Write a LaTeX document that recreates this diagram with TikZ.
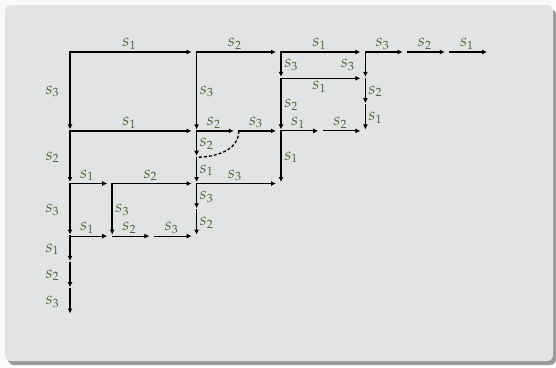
\documentclass[tikz,border=0pt]{standalone}
\usepackage{mathpazo}
\usepackage{tikz}
\usetikzlibrary{arrows.meta,positioning}

\definecolor{pagewhite}{RGB}{250,251,248}
\definecolor{framegray}{RGB}{226,227,229}
\definecolor{shadowgray}{RGB}{155,155,155}
\definecolor{labelgreen}{RGB}{76,106,50}

\begin{document}
\begin{tikzpicture}[
  x=42.2pt,
  y=-26.3pt,
  flow/.style={
    -{Latex[length=5pt,width=5pt]},
    line width=1.6pt,
    line cap=rect
  },
  hflow/.style={flow, shorten >=5pt},
  vflow/.style={flow, shorten >=1.5pt},
  light/.style={line width=1.1pt},
  lbl/.style={font=\LARGE, text=labelgreen, inner sep=2pt},
  lblup/.style={lbl, above=0pt, xshift=-4pt},
  lbldown/.style={lbl, below=0pt, xshift=-4pt},
  lblleft/.style={lbl, left=8pt},
  lblright/.style={lbl, right=0.5pt},
  link/.style={densely dashed, line width=1.3pt}
]

% frame
\useasboundingbox (-70pt,52pt) rectangle (486pt,-315pt);
\fill[pagewhite] (-70pt,52pt) rectangle (486pt,-315pt);
\fill[shadowgray, rounded corners=6pt] (-62pt,43pt) rectangle (486pt,-313pt);
\fill[framegray, rounded corners=6pt] (-65pt,47pt) rectangle (483pt,-309pt);

% grid points
\coordinate (a0) at (0,0);
\coordinate (d0) at (3,0);
\coordinate (f0) at (5,0);
\coordinate (h0) at (7,0);
\coordinate (i0) at (8,0);
\coordinate (j0) at (9,0);
\coordinate (k0) at (10,0);
\coordinate (f1) at (5,1);
\coordinate (h1) at (7,1);
\coordinate (h2) at (7,2);
\coordinate (a3) at (0,3);
\coordinate (d3) at (3,3);
\coordinate (e3) at (4,3);
\coordinate (f3) at (5,3);
\coordinate (g3) at (6,3);
\coordinate (h3) at (7,3);
\coordinate (d4) at (3,4);
\coordinate (a5) at (0,5);
\coordinate (b5) at (1,5);
\coordinate (d5) at (3,5);
\coordinate (f5) at (5,5);
\coordinate (d6) at (3,6);
\coordinate (a7) at (0,7);
\coordinate (b7) at (1,7);
\coordinate (c7) at (2,7);
\coordinate (d7) at (3,7);
\coordinate (a8) at (0,8);
\coordinate (a9) at (0,9);
\coordinate (a10) at (0,10);

% top row
\draw[hflow] (a0) -- node[lblup] {$s_1$} (d0);
\draw[hflow] (d0) -- node[lblup] {$s_2$} (f0);
\draw[hflow] (f0) -- node[lblup] {$s_1$} (h0);
\draw[hflow] (h0) -- node[lblup] {$s_3$} (i0);
\draw[hflow] (i0) -- node[lblup] {$s_2$} (j0);
\draw[hflow] (j0) -- node[lblup] {$s_1$} (k0);

% down from the top row
\draw[vflow] (a0) -- node[lblleft] {$s_3$} (a3);
\draw[vflow] (d0) -- node[lblright] {$s_3$} (d3);
\draw[vflow] (f0) -- node[lblright] {$s_3$} (f1);
\draw[vflow] (h0) -- node[lblleft] {$s_3$} (h1);

\draw[hflow] (f1) -- node[lbldown] {$s_1$} (h1);
\draw[vflow] (f1) -- node[lblright] {$s_2$} (f3);
\draw[vflow, light] (h1) -- node[lblright] {$s_2$} (h2);
\draw[vflow, light] (h2) -- node[lblright] {$s_1$} (h3);

% third row
\draw[hflow] (a3) -- node[lblup] {$s_1$} (d3);
\draw[hflow] (d3) -- node[lblup] {$s_2$} (e3);
\draw[hflow] (e3) -- node[lblup] {$s_3$} (f3);
\draw[hflow, light] (f3) -- node[lblup] {$s_1$} (g3);
\draw[hflow, light] (g3) -- node[lblup] {$s_2$} (h3);

\draw[vflow] (a3) -- node[lblleft] {$s_2$} (a5);
\draw[vflow, light] (d3) -- node[lblright] {$s_2$} (d4);
\draw[link] (e3) to[out=-90, in=0] (d4);
\draw[vflow, light] (d4) -- node[lblright] {$s_1$} (d5);
\draw[vflow] (f3) -- node[lblright] {$s_1$} (f5);

% fifth row
\draw[hflow] (a5) -- node[lblup] {$s_1$} (b5);
\draw[hflow] (b5) -- node[lblup] {$s_2$} (d5);
\draw[hflow, light] (d5) -- node[lblup] {$s_3$} (f5);

\draw[vflow] (a5) -- node[lblleft] {$s_3$} (a7);
\draw[vflow] (b5) -- node[lblright] {$s_3$} (b7);
\draw[vflow, light] (d5) -- node[lblright] {$s_3$} (d6);
\draw[vflow, light] (d6) -- node[lblright] {$s_2$} (d7);

% seventh row
\draw[hflow, light] (a7) -- node[lblup] {$s_1$} (b7);
\draw[hflow, light] (b7) -- node[lblup] {$s_2$} (c7);
\draw[hflow, light] (c7) -- node[lblup] {$s_3$} (d7);

\draw[vflow] (a7) -- node[lblleft] {$s_1$} (a8);
\draw[vflow] (a8) -- node[lblleft] {$s_2$} (a9);
\draw[vflow] (a9) -- node[lblleft] {$s_3$} (a10);

\end{tikzpicture}
\end{document}
